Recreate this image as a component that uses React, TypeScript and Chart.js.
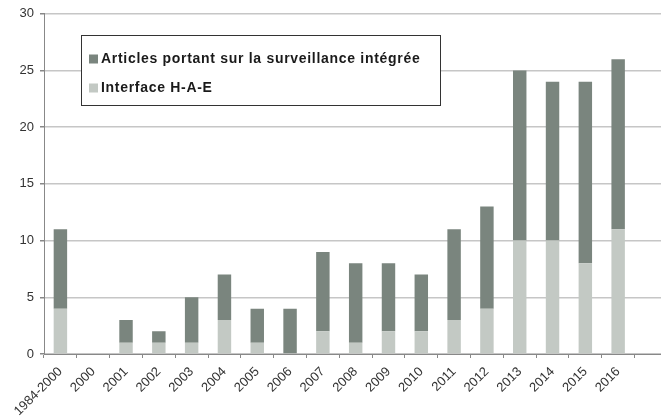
import React, { useEffect, useRef } from "react";
import { Chart, registerables } from "chart.js";

Chart.register(...registerables);

const categories = ["1984-2000", "2000", "2001", "2002", "2003", "2004", "2005", "2006", "2007", "2008", "2009", "2010", "2011", "2012", "2013", "2014", "2015", "2016", ""];
const interfaceHAE = [4, 0, 1, 1, 1, 3, 1, 0, 2, 1, 2, 2, 3, 4, 10, 10, 8, 11, 0];
const articlesRest = [7, 0, 2, 1, 4, 4, 3, 4, 7, 7, 6, 5, 8, 9, 15, 14, 16, 15, 0];
const yTicks = [0, 5, 10, 15, 20, 25, 30];
const legendLabels = ["Articles portant sur la surveillance intégrée", "Interface H-A-E"];

const DARK = "#7a857e";
const LIGHT = "#c3c9c4";

const legendPlugin = {
  id: "boxLegend",
  afterDraw(chart: any) {
    const ctx = chart.ctx;
    ctx.save();
    ctx.fillStyle = "#ffffff";
    ctx.fillRect(81.5, 35.5, 359, 70);
    ctx.strokeStyle = "#333333";
    ctx.lineWidth = 1;
    ctx.strokeRect(81.5, 35.5, 359, 70);
    const items = [
      { label: legendLabels[0], color: DARK, y: 59 },
      { label: legendLabels[1], color: LIGHT, y: 88 },
    ];
    ctx.font = "bold 14px 'Liberation Sans', Arial, sans-serif";
    try {
      (ctx as any).letterSpacing = "0.7px";
    } catch (e) {}
    ctx.textBaseline = "middle";
    ctx.textAlign = "left";
    items.forEach((it) => {
      ctx.fillStyle = it.color;
      ctx.fillRect(89, it.y - 4.5, 9, 9);
      ctx.fillStyle = "#1a1a1a";
      ctx.fillText(it.label, 101, it.y + 0.5);
    });
    ctx.restore();
  },
};

export default function App() {
  const ref = useRef<HTMLCanvasElement>(null);
  useEffect(() => {
    if (!ref.current) return;
    const chart = new Chart(ref.current, {
      type: "bar",
      data: {
        labels: categories,
        datasets: [
          { label: legendLabels[1], data: interfaceHAE, backgroundColor: LIGHT, borderWidth: 0 },
          { label: legendLabels[0], data: articlesRest, backgroundColor: DARK, borderWidth: 0 },
        ],
      },
      options: {
        responsive: false,
        animation: false,
        layout: { padding: { top: 13, right: 0.5, left: 0, bottom: 0 } },
        plugins: { legend: { display: false }, tooltip: { enabled: false } },
        datasets: { bar: { barPercentage: 0.41, categoryPercentage: 1 } },
        scales: {
          x: {
            stacked: true,
            offset: true,
            grid: { offset: true, drawOnChartArea: false, tickLength: 4, tickColor: "#888888", display: true },
            border: { color: "#888888" },
            ticks: {
              autoSkip: false,
              maxRotation: 45,
              minRotation: 45,
              color: "#333333",
              font: { family: "'Liberation Sans', Arial, sans-serif", size: 13 },
              padding: 6,
            },
            afterFit: (s: any) => {
              s.height = 62;
            },
          },
          y: {
            stacked: true,
            min: 0,
            max: 30,
            afterBuildTicks: (s: any) => {
              s.ticks = yTicks.map((v) => ({ value: v }));
            },
            grid: { color: "#c6c6c6", lineWidth: 1.5, tickLength: 4, tickColor: "#888888" },
            border: { color: "#888888" },
            ticks: {
              color: "#333333",
              font: { family: "'Liberation Sans', Arial, sans-serif", size: 13 },
              padding: 6,
            },
            afterFit: (s: any) => {
              s.width = 44;
            },
          },
        },
      },
      plugins: [legendPlugin],
    });
    return () => chart.destroy();
  }, []);
  return (
    <div style={{ position: "absolute", left: 0, top: 0, width: 661, height: 416, overflow: "hidden", background: "#fff" }}>
      <canvas ref={ref} width={668} height={416} style={{ width: 668, height: 416, display: "block" }} />
    </div>
  );
}
